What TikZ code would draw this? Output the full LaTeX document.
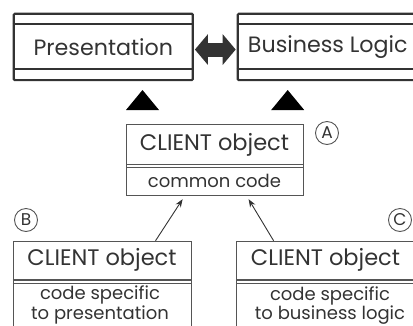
\documentclass[tikz,border=0pt]{standalone}
\usepackage{fontspec}
\setmainfont{Poppins}
\usetikzlibrary{arrows.meta}
\definecolor{ink}{HTML}{333333}
\definecolor{rule}{HTML}{555555}
\begin{document}
\begin{tikzpicture}[x=1pt,y=-1pt,
  layerbox/.style={draw=ink, line width=2.2pt, rounded corners=1pt, inner sep=0pt,
    text=ink, font=\fontsize{22.2}{24}\selectfont, anchor=north west},
  clientbox/.style={draw=rule, line width=1.2pt, inner sep=0pt, anchor=north west},
  bigtext/.style={text=ink, inner sep=0pt, font=\fontsize{22.5}{24}\selectfont},
  smalltext/.style={text=ink, inner sep=0pt, align=center,
    font=\fontsize{18}{18}\selectfont},
  tag/.style={circle, draw=rule, line width=0.9pt, inner sep=0pt, minimum size=23pt,
    text=ink, font=\fontsize{17}{17}\selectfont},
  biarrow/.style={draw=ink, line width=14pt,
    {Triangle[width=30pt,length=13pt]}-{Triangle[width=30pt,length=13pt]}},
  uses/.style={draw=ink, line width=0.9pt, -{Stealth[length=8pt,width=6pt]}}]
\useasboundingbox (0,0) rectangle (413,325);
\clip (0,0) rectangle (413,325);

% layer boxes
\node[layerbox, minimum width=179pt, minimum height=66.3pt] (pres) at (12.7,12.7) {Presentation};
\node[layerbox, minimum width=180pt, minimum height=66.3pt] (biz) at (236.7,12.7) {Business Logic};
\foreach \b in {pres,biz}{
  \draw[ink, line width=2.2pt] ([yshift=-11.3pt]\b.north west) -- ([yshift=-11.3pt]\b.north east);
  \draw[ink, line width=2.2pt] ([yshift=12.3pt]\b.south west) -- ([yshift=12.3pt]\b.south east);
}
\draw[biarrow] ([yshift=-2.6pt,xshift=1pt]pres.east) -- ([yshift=-2.6pt,xshift=-1pt]biz.west);

% common client object
\node[clientbox, minimum width=177pt, minimum height=71pt] (ca) at (126,124) {};
\node[bigtext] (caname) at (214.5,145) {CLIENT object};
\node[smalltext] (cacode) at (214.5,181) {common code};
\draw[rule, line width=1.2pt] (ca.west |- 0,164.5) -- (ca.east |- 0,164.5);
\draw[rule, line width=0.9pt] (ca.west |- 0,167.5) -- (ca.east |- 0,167.5);

% triangles marking the layers above
\fill[black] ([yshift=14pt]ca.north west) -- ++(16.5,-20) -- ++(16.5,20) -- cycle;
\fill[black] ([yshift=14pt]ca.north east) -- ++(-16.5,-20) -- ++(-16.5,20) -- cycle;

% specific client objects
\node[clientbox, minimum width=178.5pt, minimum height=100pt] (cb) at (12.7,240.7) {};
\node[bigtext] (cbname) at (102,260) {CLIENT object};
\node[smalltext] (cbcode) at (100,305) {code specific\\to presentation};
\draw[rule, line width=1.2pt] (cb.west |- 0,280) -- (cb.east |- 0,280);
\draw[rule, line width=0.9pt] (cb.west |- 0,283) -- (cb.east |- 0,283);

\node[clientbox, minimum width=179pt, minimum height=100pt] (cc) at (236,240.7) {};
\node[bigtext] (ccname) at (325.5,260) {CLIENT object};
\node[smalltext] (cccode) at (330,305.5) {code specific\\to business logic};
\draw[rule, line width=1.2pt] (cc.west |- 0,280) -- (cc.east |- 0,280);
\draw[rule, line width=0.9pt] (cc.west |- 0,283) -- (cc.east |- 0,283);

% inheritance arrows
\draw[uses] ([xshift=53pt]cb.north) -- ([xshift=-32.5pt,yshift=-3pt]ca.south);
\draw[uses] ([xshift=-52.5pt]cc.north) -- ([xshift=33.5pt,yshift=-3pt]ca.south);

% tags
\node[tag] (ta) at (327,133) {A};
\node[tag] (tb) at (26,220) {B};
\node[tag] (tc) at (400,220) {C};
\end{tikzpicture}
\end{document}
